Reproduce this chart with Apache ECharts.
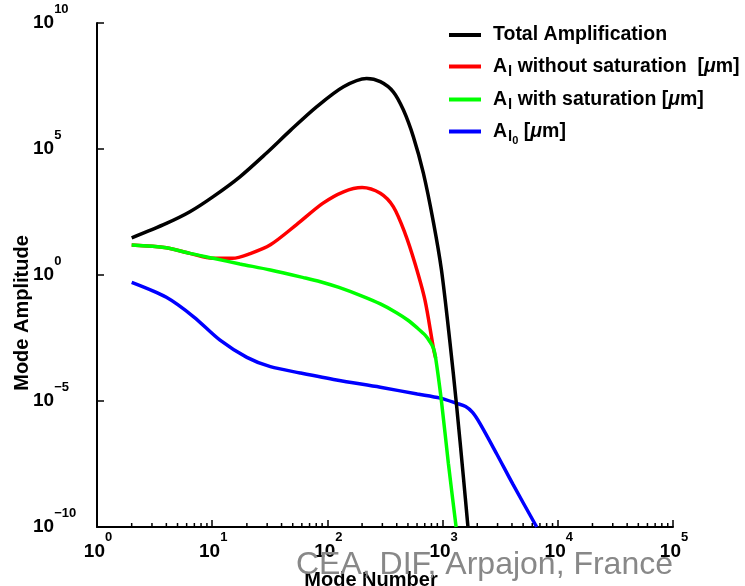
<!DOCTYPE html>
<html>
<head>
<meta charset="utf-8">
<title>Mode Amplitude</title>
<script src="https://cdn.jsdelivr.net/npm/echarts@6/dist/echarts.min.js"></script>
<style>
    html, body { margin: 0; padding: 0; background: #fff; }
    #modeChart { width: 745px; height: 586px; }
</style>
</head>
<body>
<div id="modeChart"></div>
<script>
// values: [mode number, amplitude]
var totalAmp = [
    [2, 30], [4, 112], [6.4, 324], [10.2, 1.29e3], [17.4, 7.9e3], [29.5, 6.8e4],
    [48, 5.6e5], [81, 4.8e6], [138, 2.95e7], [219, 6.3e7], [288, 4.7e7], [373, 1.86e7],
    [457, 3.5e6], [557, 3.1e5], [681, 1.1e4], [832, 126], [977, 1.6], [1160, 2e-3],
    [1324, 6.3e-6], [1514, 1e-8], [1660, 1e-10]
];
var ampNoSat = [
    [2, 15.5], [4, 12], [6.4, 7.2], [10.2, 4.6], [15, 4.6], [21.4, 7.1], [32, 15.8],
    [54, 100], [91, 692], [138, 2.0e3], [200, 2.95e3], [288, 1.74e3], [373, 513],
    [472, 45], [575, 2.9], [703, 0.1], [832, 1.26e-3], [871, 5e-4]
];
var ampSat = [
    [2, 15.5], [4, 12], [6.4, 7.2], [10.2, 4.6], [17.4, 2.75], [32, 1.58], [62, 0.79],
    [87, 0.54], [126, 0.32], [200, 0.145], [288, 0.071], [398, 0.032], [501, 0.016],
    [603, 7.9e-3], [708, 4e-3], [776, 2.24e-3], [832, 1.26e-3], [871, 5e-4], [977, 1e-5],
    [1122, 3.4e-8], [1310, 1e-10]
];
var ampInit = [
    [2, 0.51], [4, 0.13], [6.9, 0.022], [11.7, 2.6e-3], [20, 5.4e-4], [32, 2.3e-4],
    [58, 1.3e-4], [120, 6.8e-5], [288, 3.5e-5], [603, 1.9e-5], [955, 1.3e-5],
    [1324, 8.1e-6], [1585, 6e-6], [1820, 3.5e-6], [2113, 1.26e-6], [2951, 7.9e-8],
    [4074, 5e-9], [6561, 1e-10]
];
// minor ticks of the x axis
var xMinorTicks = [
    2, 3, 4, 5, 6, 7, 8, 9,
    20, 30, 40, 50, 60, 70, 80, 90,
    200, 300, 400, 500, 600, 700, 800, 900,
    2000, 3000, 4000, 5000, 6000, 7000, 8000, 9000,
    20000, 30000, 40000, 50000, 60000, 70000, 80000, 90000
];
var seriesNames = ['Total Amplification', 'A_l without saturation [μm]', 'A_l with saturation [μm]', 'A_l0 [μm]'];
var legendText = [
    '{t|Total Amplification}',
    '{t|A}{s|l}{t| without saturation  [}{mu|μ}{t|m]}',
    '{t|A}{s|l}{t| with saturation [}{mu|μ}{t|m]}',
    '{t|A}{s|l}{ss|0}{t| [}{mu|μ}{t|m]}'
];
var legendTops = [25, 54, 87, 117];

var FONT = '"Liberation Sans", Arial, Helvetica, sans-serif';

function powLabel(value) {
    var e = Math.round(Math.log10(value));
    var s = e < 0 ? '\u2212' + (-e) : '' + e;
    return '{b|10}{e|' + s + '}';
}

var minorData = [];
for (var i = 0; i < xMinorTicks.length; i++) {
    minorData.push([xMinorTicks[i], 1e-10]);
}

// one legend per entry so that subscripts do not push the rows apart
var legendRich = {
    t: { fontSize: 19.5, fontWeight: 'bold', fontFamily: FONT, color: '#000', lineHeight: 20 },
    s: { fontSize: 15, fontWeight: 'bold', fontFamily: FONT, color: '#000', lineHeight: 20, padding: [10, 0, 0, 1] },
    ss: { fontSize: 11, fontWeight: 'bold', fontFamily: FONT, color: '#000', lineHeight: 20, padding: [18, 0, 0, 0] },
    mu: { fontSize: 19.5, fontWeight: 'bold', fontStyle: 'italic', fontFamily: FONT, color: '#000', lineHeight: 20 }
};
var legends = [];
for (var k = 0; k < seriesNames.length; k++) {
    legends.push({
        data: [seriesNames[k]],
        orient: 'vertical',
        left: 449,
        top: legendTops[k],
        padding: 0,
        icon: 'rect',
        itemWidth: 32,
        itemHeight: 4,
        align: 'left',
        selectedMode: false,
        formatter: function (name) {
            return legendText[seriesNames.indexOf(name)];
        },
        textStyle: {
            padding: [0, 0, 0, 7],
            rich: legendRich
        }
    });
}

var modeChart = echarts.init(document.getElementById('modeChart'));
var modeOption = {
    backgroundColor: '#fff',
    animation: false,
    legend: legends,
    grid: {
        left: 97,
        right: 72,
        top: 23,
        bottom: 59,
        containLabel: false
    },
    xAxis: {
        type: 'log',
        logBase: 10,
        min: 1,
        max: 1e5,
        splitNumber: 5,
        axisLine: { onZero: false, lineStyle: { color: '#000', width: 2 } },
        axisTick: { inside: true, length: 7, lineStyle: { color: '#000', width: 1.5 } },
        splitLine: { show: false },
        axisLabel: {
            margin: 4,
            showMinLabel: true,
            showMaxLabel: true,
            formatter: powLabel,
            rich: {
                b: { fontSize: 19, fontWeight: 'bold', fontFamily: FONT, color: '#000', padding: [0, 0, 0, 2] },
                e: { fontSize: 13, fontWeight: 'bold', fontFamily: FONT, color: '#000', padding: [0, 0, 28, 0] }
            }
        }
    },
    yAxis: {
        type: 'log',
        // one tick every five decades
        logBase: 1e5,
        min: 1e-10,
        max: 1e10,
        splitNumber: 4,
        axisLine: { lineStyle: { color: '#000', width: 2 } },
        axisTick: { inside: true, length: 7, lineStyle: { color: '#000', width: 1.5 } },
        splitLine: { show: false },
        axisLabel: {
            margin: 64,
            align: 'left',
            showMinLabel: true,
            showMaxLabel: true,
            formatter: powLabel,
            rich: {
                b: { fontSize: 19, fontWeight: 'bold', fontFamily: FONT, color: '#000' },
                e: { fontSize: 13, fontWeight: 'bold', fontFamily: FONT, color: '#000', padding: [0, 0, 28, 0] }
            }
        }
    },
    graphic: [{
        type: 'text',
        x: 22,
        y: 313,
        rotation: Math.PI / 2,
        style: {
            text: 'Mode Amplitude',
            font: 'bold 20px ' + FONT,
            fill: '#000',
            align: 'center', verticalAlign: 'middle',
            textAlign: 'center', textVerticalAlign: 'middle'
        }
    }, {
        type: 'text',
        x: 371,
        y: 580,
        style: {
            text: 'Mode Number',
            font: 'bold 20px ' + FONT,
            fill: '#000',
            align: 'center', verticalAlign: 'middle',
            textAlign: 'center', textVerticalAlign: 'middle'
        }
    }, {
        type: 'text',
        x: 673,
        y: 565,
        z: 100,
        style: {
            text: 'CEA, DIF, Arpajon, France',
            font: '32px ' + FONT,
            fill: '#888',
            align: 'right', verticalAlign: 'middle',
            textAlign: 'right', textVerticalAlign: 'middle'
        }
    }],
    series: [{
        name: seriesNames[3],
        type: 'line',
        smooth: 0.3,
        showSymbol: false,
        lineStyle: { width: 3.5, color: '#0000ff' },
        itemStyle: { color: '#0000ff' },
        data: ampInit
    }, {
        name: seriesNames[1],
        type: 'line',
        smooth: 0.3,
        showSymbol: false,
        lineStyle: { width: 3.5, color: '#ff0000' },
        itemStyle: { color: '#ff0000' },
        data: ampNoSat
    }, {
        name: seriesNames[2],
        type: 'line',
        smooth: 0.3,
        showSymbol: false,
        lineStyle: { width: 3.5, color: '#00ff00' },
        itemStyle: { color: '#00ff00' },
        data: ampSat
    }, {
        name: seriesNames[0],
        type: 'line',
        smooth: 0.3,
        showSymbol: false,
        lineStyle: { width: 3.5, color: '#000000' },
        itemStyle: { color: '#000000' },
        data: totalAmp
    }, {
        // minor ticks along the bottom axis
        type: 'custom',
        silent: true,
        clip: false,
        renderItem: function (params, api) {
            var p = api.coord([api.value(0), api.value(1)]);
            return {
                type: 'line',
                shape: { x1: p[0], y1: p[1], x2: p[0], y2: p[1] - 4 },
                style: { stroke: '#000', lineWidth: 1.5 }
            };
        },
        data: minorData
    }]
};
modeChart.setOption(modeOption);
</script>
</body>
</html>
